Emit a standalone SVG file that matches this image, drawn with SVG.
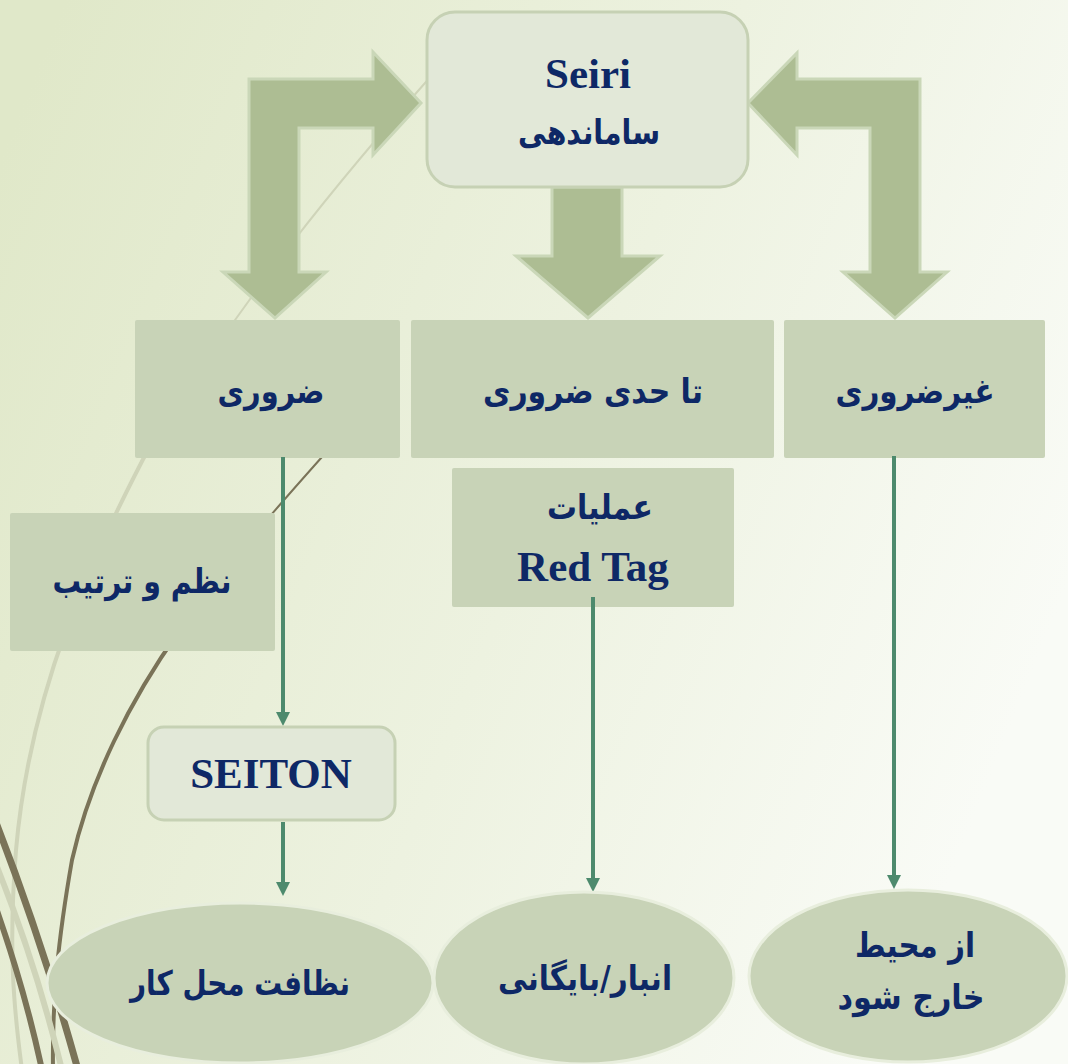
<svg xmlns="http://www.w3.org/2000/svg" width="1068" height="1064" viewBox="0 0 1068 1064">
  <defs>
    <linearGradient id="bg" x1="0" y1="0.15" x2="1" y2="0.55">
      <stop offset="0" stop-color="#e0e8c9"/>
      <stop offset="0.55" stop-color="#edf2e0"/>
      <stop offset="1" stop-color="#f9fbf6"/>
    </linearGradient>
    <marker id="arrow" viewBox="0 0 14 14" refX="2" refY="7" markerWidth="14" markerHeight="14" markerUnits="userSpaceOnUse" orient="auto">
      <path d="M0,0 L14,7 L0,14 z" fill="#4d8a6d"/>
    </marker>
    <style>
      .block { fill: #c8d3b7; }
      .soft { fill: #e2e8d8; stroke: #c6d1b4; stroke-width: 3; }
      .big-arrow { fill: #adbd93; stroke: #cad7b8; stroke-width: 3; stroke-linejoin: miter; }
      .oval { fill: #c8d3b7; stroke: #e8eedd; stroke-width: 3; }
      .link { stroke: #4d8a6d; stroke-width: 4; fill: none; marker-end: url(#arrow); }
      .fa { font-family: "DejaVu Sans", "Noto Sans", sans-serif; font-weight: bold; font-size: 34px; fill: #0e2866; text-anchor: middle; }
      .en { font-family: "Liberation Serif", "Times New Roman", serif; font-weight: bold; font-size: 43px; fill: #0e2866; text-anchor: middle; }
      .wisp-light { fill: none; stroke: #cfd4b9; stroke-linecap: round; }
      .wisp-dark { fill: none; stroke: #7a7358; stroke-linecap: round; }
    </style>
  </defs>

  <!-- background -->
  <rect x="0" y="0" width="1068" height="1064" fill="url(#bg)"/>

  <!-- decorative wisps -->
  <g id="wisps">
    <path class="wisp-light" d="M 440,66 C 330,190 250,290 150,446" stroke-width="2"/>
    <path class="wisp-light" d="M 150,446 C 90,560 30,690 16,850 C 8,950 14,1010 22,1070" stroke-width="4"/>
    <path class="wisp-dark" d="M 330,448 C 280,504 230,560 180,630" stroke-width="2"/>
    <path class="wisp-dark" d="M 180,630 C 130,700 90,780 72,860 C 58,940 52,1000 53,1070" stroke-width="4"/>
    <path class="wisp-light" d="M -5,862 Q 35,960 62,1070" stroke-width="6"/>
    <path class="wisp-dark" d="M -5,820 Q 42,940 78,1070" stroke-width="7"/>
    <path class="wisp-dark" d="M -5,905 Q 25,990 42,1070" stroke-width="6"/>
  </g>

  <!-- thick block arrows from the top node -->
  <g id="block-arrows">
    <polygon class="big-arrow" points="249,79 373,79 373,52 421,103 373,155 373,128 299,128 299,272 326,272 275,318 223,272 249,272"/>
    <polygon class="big-arrow" points="920,79 797,79 797,53 748,103 797,155 797,128 870,128 870,272 843,272 895,318 947,272 920,272"/>
    <polygon class="big-arrow" points="552,187 622,187 622,256 660,256 588,318 516,256 552,256"/>
  </g>

  <g id="node-seiri">
    <rect class="soft" x="427" y="12" width="321" height="175" rx="28"/>
    <text class="en" x="588" y="88">Seiri</text>
    <text class="fa" x="589" y="144" textLength="142" lengthAdjust="spacingAndGlyphs">ساماندهی</text>
  </g>

  <g id="node-zaroori">
    <rect class="block" x="135" y="320" width="265" height="138" rx="2"/>
    <text class="fa" x="271" y="403" textLength="107" lengthAdjust="spacingAndGlyphs">ضروری</text>
  </g>

  <g id="node-ta-haddi">
    <rect class="block" x="411" y="320" width="363" height="138" rx="2"/>
    <text class="fa" x="593" y="403" textLength="220" lengthAdjust="spacingAndGlyphs">تا حدی ضروری</text>
  </g>

  <g id="node-gheyr">
    <rect class="block" x="784" y="320" width="261" height="138" rx="2"/>
    <text class="fa" x="915" y="403" textLength="159" lengthAdjust="spacingAndGlyphs">غیرضروری</text>
  </g>

  <g id="node-nazm">
    <rect class="block" x="10" y="513" width="265" height="138" rx="2"/>
    <text class="fa" x="142" y="593" textLength="179" lengthAdjust="spacingAndGlyphs">نظم و ترتیب</text>
  </g>

  <g id="node-redtag">
    <rect class="block" x="452" y="468" width="282" height="139" rx="2"/>
    <text class="fa" x="600" y="519" textLength="106" lengthAdjust="spacingAndGlyphs">عملیات</text>
    <text class="en" x="593" y="581">Red Tag</text>
  </g>

  <g id="connectors">
    <line class="link" x1="283" y1="457" x2="283" y2="714"/>
    <line class="link" x1="283" y1="822" x2="283" y2="884"/>
    <line class="link" x1="593" y1="597" x2="593" y2="880"/>
    <line class="link" x1="894" y1="456" x2="894" y2="877"/>
  </g>

  <g id="node-seiton">
    <rect class="soft" x="148" y="727" width="247" height="93" rx="16"/>
    <text class="en" x="271" y="788">SEITON</text>
  </g>

  <g id="node-nezafat">
    <ellipse class="oval" cx="240" cy="983" rx="193" ry="80"/>
    <text class="fa" x="240" y="995" textLength="220" lengthAdjust="spacingAndGlyphs">نظافت محل کار</text>
  </g>

  <g id="node-anbar">
    <ellipse class="oval" cx="584" cy="978" rx="150" ry="86"/>
    <text class="fa" x="585" y="990" textLength="174" lengthAdjust="spacingAndGlyphs">انبار/بایگانی</text>
  </g>

  <g id="node-kharej">
    <ellipse class="oval" cx="908" cy="976" rx="159" ry="86"/>
    <text class="fa" x="915" y="957" textLength="120" lengthAdjust="spacingAndGlyphs">از محیط</text>
    <text class="fa" x="911" y="1009" textLength="147" lengthAdjust="spacingAndGlyphs">خارج شود</text>
  </g>
</svg>
